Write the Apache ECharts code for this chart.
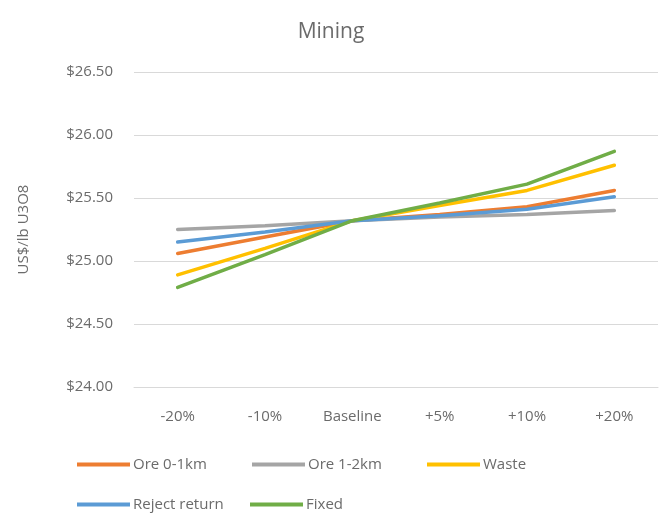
<!DOCTYPE html>
<html>
<head>
<meta charset="utf-8">
<script src="https://cdn.jsdelivr.net/npm/echarts@6/dist/echarts.min.js"></script>
<style>
  html, body { margin: 0; padding: 0; background: #fff; }
  #chart { width: 662px; height: 515px; }
</style>
</head>
<body>
<div id="chart"></div>
<script>
// Sensitivity scenarios (x axis)
const categories = ['-20%', '-10%', 'Baseline', '+5%', '+10%', '+20%'];

// Cost per pound U3O8 for each mining cost driver
const ore01km = [25.06, 25.19, 25.32, 25.37, 25.43, 25.56];
const ore12km = [25.25, 25.28, 25.32, 25.35, 25.37, 25.40];
const waste = [24.89, 25.10, 25.32, 25.44, 25.56, 25.76];
const rejectReturn = [25.15, 25.23, 25.32, 25.36, 25.41, 25.51];
const fixed = [24.79, 25.05, 25.32, 25.46, 25.61, 25.87];

const seriesNames = ['Ore 0-1km', 'Ore 1-2km', 'Waste', 'Reject return', 'Fixed'];
const seriesData = [ore01km, ore12km, waste, rejectReturn, fixed];
const colors = ['#ED7D31', '#A5A5A5', '#FFC000', '#5B9BD5', '#70AD47'];

const textColor = '#6b6b6b';
const fontFamily = '"Open Sans", "Noto Sans", sans-serif';

// One legend per entry so the entries sit in fixed columns
const legendSlots = [
  { left: 77, top: 457 },
  { left: 252, top: 457 },
  { left: 427, top: 457 },
  { left: 77, top: 497 },
  { left: 250, top: 497 }
];
const legends = seriesNames.map((name, i) => ({
  data: [name],
  left: legendSlots[i].left,
  top: legendSlots[i].top,
  icon: 'rect',
  itemWidth: 53,
  itemHeight: 4,
  padding: 0,
  selectedMode: false,
  textStyle: { color: textColor, fontSize: 15, fontFamily: fontFamily, padding: [0, 0, 0, -2] }
}));

const chart = echarts.init(document.getElementById('chart'), null, { renderer: 'canvas' });
chart.setOption({
  animation: false,
  color: colors,
  title: {
    text: 'Mining',
    left: 'center',
    top: 17,
    textStyle: { color: textColor, fontSize: 21, fontWeight: 'normal', fontFamily: fontFamily }
  },
  legend: legends,
  grid: { left: 134, top: 72, width: 524, height: 315, containLabel: false },
  xAxis: {
    type: 'category',
    data: categories,
    boundaryGap: true,
    axisLine: { show: true, lineStyle: { color: '#d9d9d9', width: 1 } },
    axisTick: { show: false },
    axisLabel: { color: textColor, fontSize: 15, fontFamily: fontFamily, margin: 22 }
  },
  yAxis: {
    type: 'value',
    min: 24,
    max: 26.5,
    interval: 0.5,
    name: 'US$/lb U3O8',
    nameLocation: 'middle',
    nameGap: 103,
    nameTextStyle: { color: textColor, fontSize: 15, fontFamily: fontFamily },
    axisLine: { show: false },
    axisTick: { show: false },
    axisLabel: {
      color: textColor, fontSize: 15, fontFamily: fontFamily, margin: 21,
      formatter: v => '$' + v.toFixed(2)
    },
    splitLine: { lineStyle: { color: '#d9d9d9', width: 1 } }
  },
  series: seriesNames.map((name, i) => ({
    name: name,
    type: 'line',
    data: seriesData[i],
    symbol: 'none',
    lineStyle: { width: 3.5, color: colors[i], cap: 'round' },
    itemStyle: { color: colors[i] }
  }))
});
</script>
</body>
</html>
